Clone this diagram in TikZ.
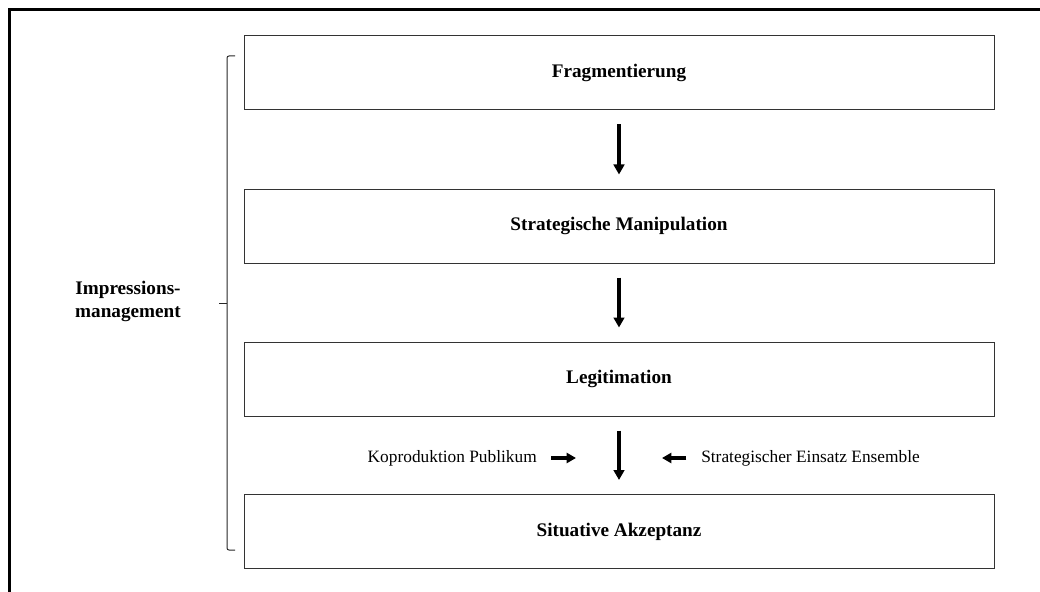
\documentclass[tikz,border=0pt]{standalone}
\usepackage{fontspec}
\setmainfont{Liberation Serif}
\usetikzlibrary{arrows.meta,positioning}

\begin{document}
\begin{tikzpicture}[x=0.75pt,y=-0.75pt,line join=miter,
    stage/.style={draw=black!80,line width=0.75pt,minimum width=562.5pt,minimum height=55.5pt,
      inner sep=0pt,font=\fontsize{14.4}{17.3}\selectfont\bfseries},
    note/.style={inner sep=0pt,font=\fontsize{13}{15.6}\selectfont},
    flow/.style={line width=2.7pt,-{Triangle[length=7.5pt,width=8pt]},shorten <=10.5pt,shorten >=10.5pt},
    side/.style={line width=2.5pt,-{Triangle[length=7pt,width=7.5pt]}}]
  \useasboundingbox (0,0) rectangle (1040,592);
  \draw[line width=2.3pt] (9.5,592) -- (9.5,9.5) -- (1040,9.5);
  \node[stage] (frag) at (619,73) {Fragmentierung};
  \node[stage] (manip) at (619,226) {Strategische Manipulation};
  \node[stage] (legit) at (619,379) {Legitimation};
  \node[stage] (akzept) at (619,531.5) {Situative Akzeptanz};
  \draw[flow] (frag) -- (manip);
  \draw[flow] (manip) -- (legit);
  \draw[flow] (legit) -- (akzept);
  \node[note,anchor=east] (kopro) at (537,458) {Koproduktion Publikum};
  \node[note,anchor=west] (einsatz) at (701,458) {Strategischer Einsatz Ensemble};
  \coordinate (kpend) at (576,458);
  \coordinate (esend) at (662,458);
  \draw[side,shorten <=10.5pt] (kopro) -- (kpend);
  \draw[side,shorten <=11pt] (einsatz) -- (esend);
  \coordinate (btop) at (235,56);
  \coordinate (bbot) at (235,550);
  \coordinate (bmid) at (219,303);
  \draw[black!85,line width=0.75pt,rounded corners=1.5pt] (btop) -- (227,56) -- (227,550) -- (bbot);
  \draw[black!85,line width=0.75pt] (227,303) -- (bmid);
  \node[align=center,font=\fontsize{14.4}{17.3}\selectfont\bfseries] (impr) at (128,301)
    {Impressions-\\management};
\end{tikzpicture}
\end{document}
